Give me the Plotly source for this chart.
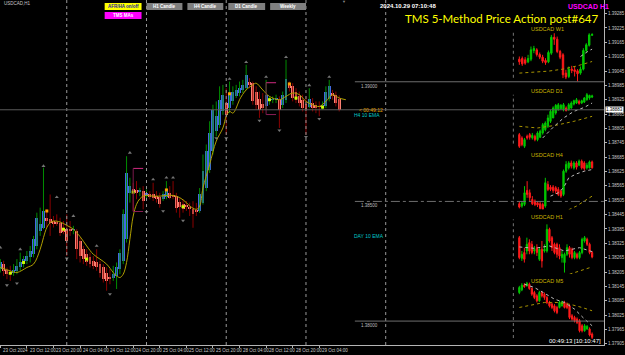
import plotly.graph_objects as go

W, H = 625, 355
def px(x): return x / W
def py(y): return 1 - y / H

# ---------------- main chart USDCAD H1 (heiken-ashi style bodies) ----------------
main_open = [1.38217,1.38238,1.38214,1.38206,1.38200,1.38210,1.38224,1.38238,1.38252,1.38266,
 1.38279,1.38314,1.38377,1.38391,1.38432,1.38425,1.38418,1.38414,1.38409,1.38391,
 1.38384,1.38384,1.38381,1.38377,1.38335,1.38300,1.38279,1.38266,1.38252,1.38245,
 1.38238,1.38224,1.38200,1.38185,1.38182,1.38189,1.38217,1.38252,1.38342,1.38536,
 1.38553,1.38548,1.38542,1.38543,1.38522,1.38529,1.38529,1.38522,1.38517,1.38509,
 1.38520,1.38536,1.38525,1.38522,1.38498,1.38488,1.38481,1.38478,1.38467,1.38462,
 1.38462,1.38494,1.38556,1.38633,1.38710,1.38793,1.38821,1.38876,1.38911,1.38890,
 1.38921,1.38940,1.38954,1.38965,1.38976,1.39001,1.38993,1.38956,1.38929,1.38907,
 1.38898,1.38921,1.38924,1.38927,1.38925,1.38904,1.38924,1.38993,1.38983,1.38957,
 1.38940,1.38925,1.38907,1.38895,1.38912,1.38901,1.38897,1.38897,1.38898,1.38928,
 1.38954,1.38946,1.38929]
main_close = [1.38245,1.38210,1.38196,1.38200,1.38214,1.38231,1.38245,1.38259,1.38272,1.38293,
 1.38342,1.38432,1.38404,1.38460,1.38418,1.38409,1.38404,1.38409,1.38370,1.38373,
 1.38335,1.38377,1.38384,1.38300,1.38272,1.38259,1.38245,1.38238,1.38231,1.38228,
 1.38203,1.38175,1.38168,1.38175,1.38196,1.38224,1.38286,1.38446,1.38620,1.38564,
 1.38539,1.38534,1.38545,1.38502,1.38536,1.38522,1.38516,1.38511,1.38488,1.38529,
 1.38550,1.38516,1.38522,1.38474,1.38478,1.38470,1.38478,1.38467,1.38446,1.38459,
 1.38529,1.38626,1.38710,1.38786,1.38883,1.38856,1.38925,1.38946,1.38862,1.38953,
 1.38959,1.38966,1.38976,1.38987,1.39029,1.38985,1.38918,1.38904,1.38883,1.38890,
 1.38943,1.38925,1.38928,1.38931,1.38883,1.38943,1.39012,1.38973,1.38932,1.38925,
 1.38911,1.38890,1.38883,1.38929,1.38890,1.38893,1.38895,1.38900,1.38957,1.38981,
 1.38939,1.38911,1.38883]
main_high = [1.38259,1.38252,1.38224,1.38231,1.38238,1.38259,1.38286,1.38272,1.38293,1.38314,
 1.38356,1.38453,1.38474,1.38641,1.38467,1.38529,1.38439,1.38446,1.38432,1.38418,
 1.38446,1.38418,1.38398,1.38384,1.38349,1.38314,1.38300,1.38286,1.38272,1.38300,
 1.38252,1.38238,1.38224,1.38217,1.38231,1.38245,1.38300,1.38467,1.38689,1.38599,
 1.38578,1.38585,1.38557,1.38564,1.38550,1.38543,1.38578,1.38543,1.38536,1.38543,
 1.38585,1.38564,1.38585,1.38536,1.38516,1.38509,1.38502,1.38495,1.38501,1.38494,
 1.38556,1.38696,1.38738,1.38835,1.38904,1.38918,1.38981,1.38987,1.38973,1.39001,
 1.38981,1.38987,1.39001,1.39008,1.39071,1.39015,1.39001,1.38981,1.38959,1.38953,
 1.39008,1.38939,1.38939,1.38946,1.38939,1.38959,1.39092,1.39001,1.38994,1.38973,
 1.38959,1.38946,1.38939,1.38973,1.38932,1.38918,1.38918,1.38918,1.38981,1.39008,
 1.38966,1.38959,1.38943]
main_low = [1.38203,1.38189,1.38175,1.38168,1.38189,1.38196,1.38210,1.38224,1.38238,1.38245,
 1.38266,1.38300,1.38356,1.38384,1.38391,1.38356,1.38391,1.38398,1.38356,1.38363,
 1.38272,1.38356,1.38363,1.38259,1.38245,1.38238,1.38231,1.38224,1.38217,1.38210,
 1.38182,1.38161,1.38127,1.38154,1.38168,1.38134,1.38196,1.38238,1.38328,1.38495,
 1.38460,1.38509,1.38522,1.38467,1.38509,1.38509,1.38502,1.38495,1.38474,1.38502,
 1.38509,1.38509,1.38509,1.38453,1.38432,1.38453,1.38460,1.38439,1.38390,1.38439,
 1.38452,1.38487,1.38543,1.38619,1.38696,1.38772,1.38807,1.38862,1.38779,1.38869,
 1.38904,1.38932,1.38939,1.38953,1.38966,1.38973,1.38904,1.38883,1.38849,1.38869,
 1.38883,1.38904,1.38911,1.38911,1.38807,1.38890,1.38911,1.38959,1.38918,1.38911,
 1.38897,1.38876,1.38779,1.38890,1.38876,1.38869,1.38856,1.38883,1.38890,1.38918,
 1.38925,1.38897,1.38876]

ma_k = [0,3,5,8,10,12,13,14,15,16,18,20,22,24,26,28,30,32,34,35,36,37,38,39,40,41,42,43,44,46,48,50,52,54,56,57,
        59,60,61,63,65,67,68,69,70,71,72,74,76,77,79,81,84,86,88,90,92,94,96,98,100,102,104]
ma_val = [1.38224,1.38210,1.38203,1.38224,1.38238,1.38300,1.38349,1.38391,1.38411,1.38418,1.38414,1.38400,
          1.38384,1.38353,1.38314,1.38279,1.38259,1.38238,1.38203,1.38189,1.38182,1.38196,1.38245,1.38342,
          1.38439,1.38488,1.38511,1.38522,1.38525,1.38522,1.38522,1.38525,1.38525,1.38516,1.38495,1.38481,
          1.38467,1.38480,1.38556,1.38654,1.38752,1.38807,1.38856,1.38876,1.38869,1.38890,1.38925,1.38966,
          1.38987,1.38994,1.38966,1.38939,1.38925,1.38939,1.38953,1.38946,1.38918,1.38904,1.38897,1.38918,
          1.38946,1.38932,1.38925]

frac_up_k = [0, 6, 13, 17, 22, 29, 39, 46, 50, 52, 69, 74, 80, 86, 93, 99]
frac_up_p = [1.38307,1.38300,1.38648,1.38518,1.38439,1.38314,1.38703,1.38592,1.38599,1.38599,
             1.39012,1.39082,1.39020,1.39103,1.38985,1.39020]
frac_dn_k = [2, 5, 20, 33, 44, 49, 55, 65, 68, 78, 84, 92, 96]
frac_dn_p = [1.38150,1.38158,1.38262,1.38113,1.38456,1.38460,1.38420,1.38765,1.38765,1.38838,
             1.38797,1.38770,1.38845]

dot_yel_k = [3, 7, 19, 26, 40, 55, 81, 89, 97]
dot_yel_p = [1.38200,1.38245,1.38384,1.38259,1.38539,1.38478,1.38925,1.38932,1.38894]
dot_org_k = [14, 50, 69, 87]
dot_org_p = [1.38460,1.38548,1.38950,1.38991]

brk_k0 = [40, 80]
brk_k1 = [43, 83]
brk_hi = [1.38638, 1.38996]
brk_lo = [1.38458, 1.38863]

day_start_k = [20, 44, 68, 92, 116]
xlab_k = [0, 8, 16, 24, 32, 40, 48, 56, 64, 72, 80, 88, 96]
xlab_txt = ["23 Oct 2024", "23 Oct 12:00", "23 Oct 20:00", "24 Oct 04:00", "24 Oct 12:00", "24 Oct 20:00",
            "25 Oct 04:00", "25 Oct 12:00", "25 Oct 20:00", "28 Oct 04:00", "28 Oct 12:00", "28 Oct 20:00",
            "29 Oct 04:00"]
price_ticks = [1.37905,1.37965,1.38025,1.38085,1.38145,1.38205,1.38265,1.38325,1.38385,1.38445,1.38505,
               1.38565,1.38625,1.38685,1.38745,1.38805,1.38865,1.38925,1.38985,1.39045,1.39105,1.39165,
               1.39225,1.39285]
round_levels = [1.39000, 1.38500, 1.38000]
round_dash = ["solid", "dashdot", "solid"]

# ---------------- mini charts ----------------
w1_open = [1.3588,1.3596,1.3580,1.3556,1.3588,1.3692,1.3700,1.3644,1.3612,1.3572,1.3556,1.3660,1.3852,
           1.3828,1.3680,1.3640,1.3420,1.3380,1.3468,1.3460,1.3448,1.3420,1.3468,1.3692,1.3756,1.3876]
w1_close = [1.3556,1.3532,1.3540,1.3596,1.3700,1.3716,1.3644,1.3612,1.3564,1.3548,1.3668,1.3852,1.3828,
            1.3680,1.3612,1.3400,1.3372,1.3468,1.3452,1.3440,1.3412,1.3468,1.3692,1.3760,1.3880,1.3884]
w1_high = [1.3620,1.3620,1.3612,1.3640,1.3740,1.3748,1.3720,1.3668,1.3640,1.3600,1.3692,1.3880,1.3900,
           1.3860,1.3700,1.3660,1.3460,1.3500,1.3508,1.3500,1.3468,1.3500,1.3720,1.3780,1.3900,1.3900]
w1_low = [1.3520,1.3508,1.3520,1.3540,1.3564,1.3660,1.3620,1.3588,1.3540,1.3520,1.3540,1.3640,1.3760,
          1.3660,1.3588,1.3360,1.3348,1.3360,1.3420,1.3380,1.3320,1.3400,1.3452,1.3660,1.3740,1.3868]
w1_ma1_i = [0, 5, 10, 15, 20, 25]
w1_ma1 = [1.3420, 1.3428, 1.3444, 1.3468, 1.3508, 1.3560]
w1_ma2_i = [21, 22, 23, 24, 25]
w1_ma2 = [1.3620, 1.3640, 1.3668, 1.3692, 1.3708]

d1_open = [1.3540,1.3510,1.3435,1.3525,1.3540,1.3510,1.3525,1.3495,1.3516,1.3555,1.3585,1.3615,1.3660,
           1.3690,1.3735,1.3765,1.3774,1.3765,1.3780,1.3765,1.3780,1.3816,1.3825,1.3840,1.3825,1.3834,
           1.3855,1.3870,1.3879]
d1_close = [1.3435,1.3450,1.3495,1.3510,1.3516,1.3534,1.3495,1.3555,1.3570,1.3630,1.3645,1.3690,1.3750,
            1.3780,1.3804,1.3810,1.3804,1.3810,1.3756,1.3810,1.3825,1.3846,1.3855,1.3822,1.3846,1.3870,
            1.3900,1.3894,1.3888]
d1_high = [1.3555,1.3525,1.3510,1.3540,1.3555,1.3555,1.3540,1.3570,1.3585,1.3645,1.3660,1.3720,1.3765,
           1.3795,1.3816,1.3825,1.3816,1.3825,1.3795,1.3825,1.3840,1.3855,1.3870,1.3855,1.3855,1.3879,
           1.3915,1.3900,1.3900]
d1_low = [1.3420,1.3435,1.3420,1.3495,1.3495,1.3495,1.3480,1.3480,1.3510,1.3540,1.3570,1.3600,1.3645,
          1.3690,1.3720,1.3756,1.3765,1.3750,1.3750,1.3756,1.3774,1.3804,1.3816,1.3810,1.3816,1.3825,
          1.3846,1.3855,1.3870]
d1_ma1_i = [0, 7, 14, 21, 28]
d1_ma1 = [1.3615, 1.3600, 1.3624, 1.3660, 1.3705]
d1_ma2_i = [9, 13, 17, 21, 25, 28]
d1_ma2 = [1.3510, 1.3606, 1.3690, 1.3750, 1.3786, 1.3825]

h4_open = [1.3772,1.3765,1.3770,1.3812,1.3805,1.3785,1.3780,1.3775,1.3772,1.3770,1.3765,1.3830,1.3822,
           1.3822,1.3820,1.3815,1.3810,1.3800,1.3870,1.3880,1.3895,1.3880,1.3895,1.3888,1.3900,1.3895,
           1.3880,1.3880,1.3898]
h4_close = [1.3762,1.3774,1.3805,1.3800,1.3790,1.3772,1.3770,1.3768,1.3758,1.3755,1.3835,1.3815,1.3815,
            1.3812,1.3810,1.3800,1.3795,1.3870,1.3890,1.3895,1.3885,1.3895,1.3882,1.3900,1.3880,1.3878,
            1.3888,1.3898,1.3880]
h4_high = [1.3778,1.3780,1.3825,1.3840,1.3815,1.3795,1.3785,1.3780,1.3778,1.3775,1.3850,1.3840,1.3828,
           1.3828,1.3825,1.3822,1.3815,1.3875,1.3900,1.3900,1.3902,1.3900,1.3900,1.3905,1.3905,1.3900,
           1.3895,1.3902,1.3902]
h4_low = [1.3758,1.3760,1.3765,1.3790,1.3780,1.3768,1.3765,1.3762,1.3754,1.3752,1.3760,1.3810,1.3810,
          1.3805,1.3802,1.3795,1.3790,1.3795,1.3865,1.3875,1.3878,1.3875,1.3875,1.3885,1.3875,1.3872,
          1.3875,1.3878,1.3878]
h4_ma1_i = [19, 22, 25, 28]
h4_ma1 = [1.3754, 1.3765, 1.3780, 1.3795]
h4_ma2_i = [12, 15, 17, 19, 22, 25, 28]
h4_ma2 = [1.3795, 1.3805, 1.3820, 1.3850, 1.3862, 1.3870, 1.3875]

h1_open = [1.39000,1.38876,1.38910,1.38920,1.38970,1.38960,1.38920,1.38940,1.38870,1.38930,1.38920,
           1.38920,1.39050,1.39000,1.38960,1.38960,1.38940,1.38880,1.38850,1.38900,1.38940,1.38930,
           1.38880,1.38900,1.38880,1.38910,1.38980,1.38990,1.38960,1.38910]
h1_close = [1.38880,1.38900,1.38870,1.38960,1.38920,1.38910,1.38930,1.38910,1.38930,1.38860,1.38930,
            1.39050,1.38980,1.38940,1.38910,1.38900,1.38890,1.38900,1.38900,1.38940,1.38900,1.38880,
            1.38910,1.38880,1.38910,1.38990,1.39000,1.38960,1.38910,1.38884]
h1_high = [1.39010,1.38920,1.38940,1.39000,1.38990,1.38980,1.38950,1.38960,1.38940,1.38980,1.38960,
           1.39080,1.39060,1.39010,1.38970,1.38970,1.38960,1.38920,1.38910,1.38960,1.38950,1.38940,
           1.38920,1.38910,1.38920,1.39000,1.39010,1.39000,1.38970,1.38920]
h1_low = [1.38870,1.38860,1.38850,1.38900,1.38900,1.38900,1.38900,1.38890,1.38860,1.38820,1.38910,
          1.38910,1.38970,1.38920,1.38900,1.38880,1.38870,1.38850,1.38790,1.38890,1.38880,1.38870,
          1.38870,1.38870,1.38870,1.38900,1.38970,1.38950,1.38900,1.38876]
h1_ma1_i = [20, 24, 29]
h1_ma1 = [1.38780, 1.38800, 1.38824]
h1_ma2_i = [0, 6, 12, 18, 24, 29]
h1_ma2 = [1.38944, 1.38936, 1.38950, 1.38920, 1.38940, 1.38916]

m5_open = [1.38980,1.38988,1.39002,1.39000,1.39005,1.38992,1.38980,1.38970,1.38955,1.38980,1.38975,
           1.38965,1.38950,1.38945,1.38940,1.38935,1.38935,1.38940,1.38950,1.38945,1.38940,1.38910,
           1.38905,1.38900,1.38895,1.38880,1.38865,1.38870,1.38870,1.38855]
m5_close = [1.38995,1.39002,1.38998,1.39008,1.38992,1.38975,1.38965,1.38955,1.38980,1.38970,1.38965,
            1.38950,1.38940,1.38935,1.38925,1.38920,1.38950,1.38952,1.38935,1.38935,1.38905,1.38900,
            1.38895,1.38890,1.38865,1.38865,1.38880,1.38878,1.38852,1.38845]
m5_high = [1.39000,1.39008,1.39008,1.39012,1.39010,1.38995,1.38985,1.38975,1.38985,1.38985,1.38980,
           1.38970,1.38955,1.38950,1.38945,1.38940,1.38955,1.38955,1.38955,1.38950,1.38945,1.38915,
           1.38910,1.38905,1.38900,1.38885,1.38885,1.38882,1.38875,1.38860]
m5_low = [1.38975,1.38984,1.38994,1.38998,1.38988,1.38970,1.38960,1.38950,1.38952,1.38965,1.38958,
          1.38945,1.38935,1.38930,1.38920,1.38915,1.38932,1.38938,1.38932,1.38930,1.38900,1.38895,
          1.38890,1.38885,1.38860,1.38860,1.38862,1.38868,1.38848,1.38840]
m5_ma1_i = [0, 5, 10, 15, 20, 25, 29]
m5_ma1 = [1.38935, 1.38942, 1.38950, 1.38950, 1.38945, 1.38935, 1.38925]
m5_ma2_i = [2, 6, 10, 14, 18, 22, 26, 29]
m5_ma2 = [1.39005, 1.38995, 1.38978, 1.38960, 1.38950, 1.38930, 1.38900, 1.38880]

# ---------------- colours ----------------
BLUE = "#4169e1"
SALMON = "#fa8072"
WICK_UP = "#008c00"
WICK_DN = "#8b0000"
MA_COL = "#b0a000"
GREY_TXT = "#c8c8c8"
FONT = "Liberation Sans"

fig = go.Figure()

# wicks
kk = list(range(len(main_open)))
wu_x, wu_y, wd_x, wd_y = [], [], [], []
for k in kk:
    if main_close[k] >= main_open[k]:
        wu_x += [k, k, None]; wu_y += [main_low[k], main_high[k], None]
    else:
        wd_x += [k, k, None]; wd_y += [main_low[k], main_high[k], None]
fig.add_trace(go.Scatter(x=wu_x, y=wu_y, mode="lines", line=dict(color=WICK_UP, width=1), hoverinfo="skip"))
fig.add_trace(go.Scatter(x=wd_x, y=wd_y, mode="lines", line=dict(color=WICK_DN, width=1), hoverinfo="skip"))

# bodies
up_k = [k for k in kk if main_close[k] >= main_open[k]]
dn_k = [k for k in kk if main_close[k] < main_open[k]]
fig.add_trace(go.Bar(x=up_k, y=[max(main_close[k] - main_open[k], 0.00003) for k in up_k],
                     base=[main_open[k] for k in up_k], width=0.88, marker=dict(color=BLUE, line=dict(width=0))))
fig.add_trace(go.Bar(x=dn_k, y=[max(main_open[k] - main_close[k], 0.00003) for k in dn_k],
                     base=[main_close[k] for k in dn_k], width=0.88, marker=dict(color=SALMON, line=dict(width=0))))

# moving average
fig.add_trace(go.Scatter(x=ma_k, y=ma_val, mode="lines", line=dict(color=MA_COL, width=1, shape="spline")))

# fractals
fig.add_trace(go.Scatter(x=frac_up_k, y=frac_up_p, mode="markers",
                         marker=dict(symbol="triangle-up", size=3.5, color="#747474")))
fig.add_trace(go.Scatter(x=frac_dn_k, y=frac_dn_p, mode="markers",
                         marker=dict(symbol="triangle-down", size=3.5, color="#747474")))
# dots
fig.add_trace(go.Scatter(x=dot_yel_k, y=dot_yel_p, mode="markers",
                         marker=dict(symbol="square", size=3, color="#ccff00")))
fig.add_trace(go.Scatter(x=dot_org_k, y=dot_org_p, mode="markers",
                         marker=dict(symbol="square", size=3, color="#ffa000")))

# brackets
for a, b, hi, lo in zip(brk_k0, brk_k1, brk_hi, brk_lo):
    fig.add_trace(go.Scatter(x=[a, b], y=[hi, hi], mode="lines", line=dict(color="#d02a80", width=1)))
    fig.add_trace(go.Scatter(x=[a, b], y=[lo, lo], mode="lines", line=dict(color="#8a1f55", width=1)))
    fig.add_trace(go.Scatter(x=[a, a], y=[lo, hi], mode="lines", line=dict(color="#7a1a4a", width=1)))

shapes = []
annotations = []

# day separators
for k in day_start_k:
    shapes.append(dict(type="line", xref="x", yref="paper", x0=k, x1=k, y0=py(346), y1=1,
                       line=dict(color="#9a9a9a", width=1, dash="dot")))
# round levels
for lv, ds in zip(round_levels, round_dash):
    shapes.append(dict(type="line", xref="paper", yref="y", x0=px(356), x1=px(606), y0=lv, y1=lv,
                       line=dict(color="#6e6e6e", width=1, dash=ds)))
    annotations.append(dict(xref="paper", yref="y", x=px(381), y=lv, text=f"{lv:.5f}", showarrow=False,
                            xanchor="right", yanchor="top", font=dict(size=4.5, color="#bdbdbd", family=FONT)))
# bid line
bid = main_close[-1]
shapes.append(dict(type="line", xref="paper", yref="y", x0=0, x1=px(606), y0=bid, y1=bid,
                   line=dict(color="#5a5a5a", width=1)))
annotations.append(dict(xref="paper", yref="y", x=px(607), y=bid, text=f"{bid:.5f}", showarrow=False,
                        xanchor="left", yanchor="middle", bgcolor="#ffffff",
                        font=dict(size=4.5, color="#000000", family=FONT), borderpad=0))

# x labels
for k, t in zip(xlab_k, xlab_txt):
    annotations.append(dict(xref="x", yref="paper", x=k, y=py(346.5), text=t, showarrow=False,
                            xanchor="left", yanchor="top", xshift=1,
                            font=dict(size=4.5, color=GREY_TXT, family=FONT)))

layout_axes = dict(
    xaxis=dict(domain=[0, px(606)], range=[-0.09, 181.72], showgrid=False, zeroline=False,
               showline=True, linecolor="#b4b4b4", linewidth=1, ticks="outside", ticklen=2,
               tickcolor="#b4b4b4", tickvals=xlab_k, showticklabels=False, fixedrange=True),
    yaxis=dict(domain=[py(346), 1], range=[1.379, 1.393417], side="right", showgrid=False,
               zeroline=False, showline=True, linecolor="#b4b4b4", linewidth=1, ticks="outside",
               ticklen=2, tickcolor="#b4b4b4", tickvals=price_ticks,
               ticktext=[f"{v:.5f}" for v in price_ticks], tickfont=dict(size=4.5, color=GREY_TXT, family=FONT),
               fixedrange=True),
)

panels = [
    ("USDCAD W1", w1_open, w1_close, w1_high, w1_low, w1_ma1_i, w1_ma1, w1_ma2_i, w1_ma2, 20, 84, 1.3292, 1.4060, 29),
    ("USDCAD D1", d1_open, d1_close, d1_high, d1_low, d1_ma1_i, d1_ma1, d1_ma2_i, d1_ma2, 85, 150, 1.3405, 1.3990, 91),
    ("USDCAD H4", h4_open, h4_close, h4_high, h4_low, h4_ma1_i, h4_ma1, h4_ma2_i, h4_ma2, 150, 212, 1.3749, 1.3935, 155),
    ("USDCAD H1", h1_open, h1_close, h1_high, h1_low, h1_ma1_i, h1_ma1, h1_ma2_i, h1_ma2, 210, 275, 1.3878, 1.3917, 218),
    ("USDCAD M5", m5_open, m5_close, m5_high, m5_low, m5_ma1_i, m5_ma1, m5_ma2_i, m5_ma2, 275, 345, 1.38825, 1.39035, 282),
]
for i, (title, o, c, h, l, m1i, m1, m2i, m2, ytop, ybot, lo, hi, ty) in enumerate(panels):
    n = i + 2
    xa, ya = f"x{n}", f"y{n}"
    N = len(o)
    s = 73.0 / (N - 1)
    fig.add_trace(go.Candlestick(x=list(range(N)), open=o, high=h, low=l, close=c, xaxis=xa, yaxis=ya,
                                 increasing=dict(line=dict(color="#00c800", width=1), fillcolor="#00c800"),
                                 decreasing=dict(line=dict(color="#ff1a1a", width=1), fillcolor="#ff1a1a"),
                                 whiskerwidth=0, hoverinfo="skip"))
    fig.add_trace(go.Scatter(x=m1i, y=m1, mode="lines", xaxis=xa, yaxis=ya,
                             line=dict(color="#a89400", width=1, dash="dot")))
    fig.add_trace(go.Scatter(x=m2i, y=m2, mode="lines", xaxis=xa, yaxis=ya,
                             line=dict(color="#bcbcbc", width=1, dash="dot")))
    layout_axes[f"xaxis{n}"] = dict(domain=[px(505), px(605)], range=[(505 - 521) / s, (605 - 521) / s],
                                    visible=False, anchor=ya, rangeslider=dict(visible=False), fixedrange=True)
    layout_axes[f"yaxis{n}"] = dict(domain=[py(ybot), py(ytop)], range=[lo, hi], visible=False, anchor=xa,
                                    fixedrange=True)
    shapes.append(dict(type="line", xref="paper", yref="paper", x0=px(515), x1=px(515), y0=py(ybot - 6),
                       y1=py(ytop + 10), line=dict(color="#777777", width=1, dash="dot")))
    annotations.append(dict(xref="paper", yref="paper", x=px(549), y=py(ty), text=title, showarrow=False,
                            xanchor="center", yanchor="middle",
                            font=dict(size=5.5, color="#c8b400", family=FONT)))

# ---- UI buttons / labels ----
buttons = [
    ("AFR/HA on/off", 105, 142, 3, 10, "#ffff00", "#1a1aa0"),
    ("TMS MAs", 105, 142, 12, 19, "#ff00ff", "#ffffff"),
    ("H1 Candle", 147, 183, 3, 10, "#7f7f7f", "#ffffff"),
    ("H4 Candle", 188, 224, 3, 10, "#7f7f7f", "#ffffff"),
    ("D1 Candle", 229, 266, 3, 10, "#7f7f7f", "#ffffff"),
    ("Weekly", 271, 307, 3, 10, "#7f7f7f", "#ffffff"),
]
for t, x0, x1, y0, y1, bg, fg in buttons:
    shapes.append(dict(type="rect", xref="paper", yref="paper", x0=px(x0), x1=px(x1), y0=py(y1), y1=py(y0),
                       fillcolor=bg, line=dict(width=0), layer="above"))
    annotations.append(dict(xref="paper", yref="paper", x=px((x0 + x1) / 2), y=py((y0 + y1) / 2), text=f"<b>{t}</b>",
                            showarrow=False, xanchor="center", yanchor="middle",
                            font=dict(size=4.5, color=fg, family=FONT)))

texts = [
    ("USDCAD,H1", 2, 4, "left", 4.5, "#c8c8c8", False, FONT),
    ("2024.10.29 07:10:48", 409, 6, "center", 6, "#ffffff", True, FONT),
    ("USDCAD H1", 590, 7, "center", 7, "#ff00ff", True, FONT),
    ("TMS 5-Method Price Action post#647", 503, 19, "center", 11.5, "#ffff00", False, "Lato"),
    ("< 00:49:12", 372, 110, "center", 5, "#e0a000", False, FONT),
    ("H4 10 EMA", 368, 115, "center", 5, "#00c8c8", False, FONT),
    ("DAY 10 EMA", 370, 237, "center", 5, "#00c8c8", False, FONT),
    ("00:49:13 [10:10:47]", 577, 342, "center", 6, "#ffffff", False, FONT),
    ("▼", 345, 2, "center", 4, "#8a8a8a", False, FONT),
]
for t, x, y, anc, sz, col, bold, fam in texts:
    annotations.append(dict(xref="paper", yref="paper", x=px(x), y=py(y), text=(f"<b>{t}</b>" if bold else t),
                            showarrow=False, xanchor=anc, yanchor="middle", font=dict(size=sz, color=col, family=fam)))

fig.update_layout(
    width=W, height=H, margin=dict(l=0, r=0, t=0, b=0),
    paper_bgcolor="#000000", plot_bgcolor="#000000",
    showlegend=False, barmode="overlay", bargap=0, hovermode=False,
    shapes=shapes, annotations=annotations, **layout_axes,
)

fig.write_html("out.html")
